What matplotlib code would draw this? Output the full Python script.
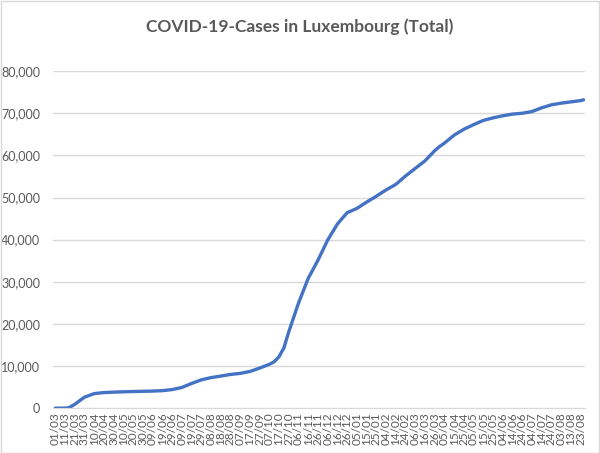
import pandas as pd
import matplotlib.pyplot as plt
import matplotlib.dates as mdates
from matplotlib.ticker import FuncFormatter

# Values (total cases)
dates = [
    "2020-03-01", "2020-03-11", "2020-03-15", "2020-03-21", "2020-03-31",
    "2020-04-10", "2020-04-20", "2020-04-30", "2020-05-10", "2020-05-20",
    "2020-05-30", "2020-06-09", "2020-06-19", "2020-06-29", "2020-07-09",
    "2020-07-19", "2020-07-29", "2020-08-08", "2020-08-18", "2020-08-28",
    "2020-09-07", "2020-09-17", "2020-09-27", "2020-10-07", "2020-10-12",
    "2020-10-17", "2020-10-22", "2020-10-27", "2020-11-01", "2020-11-06",
    "2020-11-16", "2020-11-26", "2020-12-06", "2020-12-16", "2020-12-26",
    "2021-01-05", "2021-01-15", "2021-01-25", "2021-02-04", "2021-02-14",
    "2021-02-24", "2021-03-06", "2021-03-16", "2021-03-26", "2021-03-31",
    "2021-04-05", "2021-04-15", "2021-04-25", "2021-05-05", "2021-05-15",
    "2021-05-25", "2021-06-04", "2021-06-14", "2021-06-24", "2021-07-04",
    "2021-07-14", "2021-07-24", "2021-08-03", "2021-08-13", "2021-08-23",
    "2021-08-26",
]
cases = [
    0, 10, 100, 900, 2600,
    3450, 3700, 3800, 3880, 3950,
    4000, 4050, 4150, 4400, 4900,
    5850, 6700, 7250, 7600, 8000,
    8250, 8700, 9500, 10400, 11000,
    12200, 14300, 18100, 21500, 24900,
    30800, 35100, 39900, 43700, 46400,
    47400, 48900, 50300, 51800, 53100,
    55100, 56900, 58700, 61100, 62100,
    62900, 64800, 66200, 67300, 68300,
    68900, 69400, 69800, 70000, 70400,
    71300, 72000, 72400, 72700, 73000,
    73200,
]
tick_start = "2020-03-01"
tick_end = "2021-08-23"

title = "COVID-19-Cases in Luxembourg (Total)"
text_color = "#595959"
grid_color = "#D9D9D9"
line_color = "#4472C4"

plt.rcParams['font.family'] = ['Lato', 'DejaVu Sans']

x = pd.to_datetime(dates)
ticks = pd.date_range(tick_start, tick_end, freq="10D")

fig = plt.figure(figsize=(6.0, 4.53), dpi=100)
ax = fig.add_axes([0.088, 0.099, 0.887, 0.744])

ax.plot(x, cases, color=line_color, linewidth=2.4, solid_capstyle='round')

ax.set_ylim(0, 80000)
ax.set_yticks(range(0, 80001, 10000))
ax.yaxis.set_major_formatter(FuncFormatter(lambda v, p: f"{int(v):,}"))
ax.set_xlim(pd.Timestamp(tick_start) - pd.Timedelta(days=2.5),
            pd.Timestamp("2021-08-26") + pd.Timedelta(days=1.5))
ax.set_xticks(ticks)
ax.xaxis.set_major_formatter(mdates.DateFormatter("%d/%m"))

ax.grid(axis='y', color=grid_color, linewidth=1)
ax.set_axisbelow(True)
for side in ['top', 'right', 'left']:
    ax.spines[side].set_visible(False)
ax.spines['bottom'].set_color(grid_color)
ax.tick_params(axis='both', length=0, colors=text_color)
ax.tick_params(axis='x', labelsize=8.5, labelrotation=90, pad=3)
ax.tick_params(axis='y', labelsize=9, pad=9)

fig.text(0.5, 0.94, title, ha='center', va='center', fontsize=12.5,
         fontweight='bold', color=text_color)

# light chart border like the spreadsheet chart area
fig.patches.append(plt.Rectangle((0.001, 0.001), 0.997, 0.997, transform=fig.transFigure,
                                 fill=False, edgecolor=grid_color, linewidth=1))

fig.savefig("out.png", dpi=100)
